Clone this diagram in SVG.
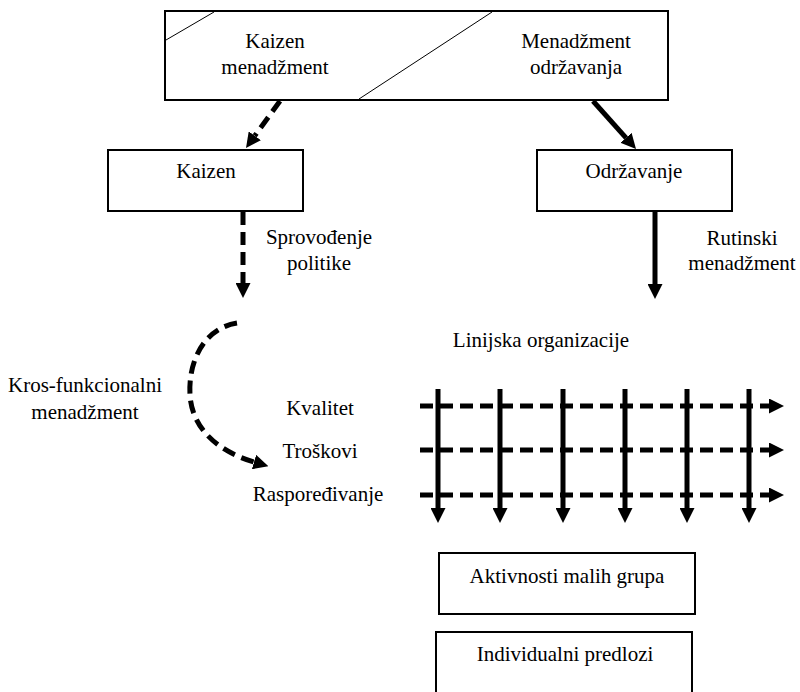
<svg xmlns="http://www.w3.org/2000/svg" width="800" height="692" viewBox="0 0 800 692">
<style>
.box{fill:#fff;stroke:#000;stroke-width:2}
.thin{stroke:#000;stroke-width:1;fill:none}
.t{font-family:'Times New Roman','Liberation Serif','DejaVu Serif',serif;font-size:21px;fill:#000;text-anchor:middle}
.solid{stroke:#000;stroke-width:5;fill:none}
.dash{stroke:#000;stroke-width:5;fill:none;stroke-dasharray:13 7}
</style>
<defs>
<marker id="ah" markerUnits="userSpaceOnUse" markerWidth="15" markerHeight="15" refX="0" refY="7.5" orient="auto">
<path d="M0,0 L15,7.5 L0,15 z" fill="#000"/>
</marker>
</defs>
<rect width="800" height="692" fill="#fff"/>
<g id="top">
<rect class="box" x="165" y="11" width="503" height="89"/>
<line class="thin" x1="166" y1="40" x2="214" y2="12"/>
<line class="thin" x1="359" y1="99" x2="492" y2="12"/>
<text class="t" x="275" y="48">Kaizen</text>
<text class="t" x="275" y="74">menadžment</text>
<text class="t" x="576" y="48">Menadžment</text>
<text class="t" x="576" y="74">održavanja</text>
</g>

<g id="kaizen">
<rect class="box" x="108" y="150" width="195" height="61"/>
<text class="t" x="206" y="178">Kaizen</text>
</g>

<g id="odrzavanje">
<rect class="box" x="537" y="150" width="195" height="61"/>
<text class="t" x="634" y="178">Održavanje</text>
</g>

<g id="labels">
<text class="t" x="319" y="244">Sprovođenje</text>
<text class="t" x="319" y="270">politike</text>
<text class="t" x="742" y="245">Rutinski</text>
<text class="t" x="742" y="270">menadžment</text>
<text class="t" x="541" y="347">Linijska organizacije</text>
<text class="t" x="85" y="392">Kros-funkcionalni</text>
<text class="t" x="85" y="419">menadžment</text>
<text class="t" x="320" y="415">Kvalitet</text>
<text class="t" x="320" y="458">Troškovi</text>
<text class="t" x="318" y="501">Raspoređivanje</text>
</g>

<g id="aktivnosti">
<rect class="box" x="439" y="553" width="256" height="61"/>
<text class="t" x="567" y="583">Aktivnosti malih grupa</text>
</g>

<g id="individualni">
<rect class="box" x="436" y="632" width="256" height="70"/>
<text class="t" x="565" y="661">Individualni predlozi</text>
</g>

<g id="connectors">
<line class="dash" x1="280" y1="101" x2="254.8" y2="135.8" marker-end="url(#ah)"/>
<line class="solid" x1="593" y1="101" x2="626" y2="137.8" marker-end="url(#ah)"/>
<line class="dash" x1="243" y1="212" x2="243" y2="283" marker-end="url(#ah)"/>
<line class="solid" x1="655" y1="212" x2="655" y2="284" marker-end="url(#ah)"/>
<path class="dash" d="M237,323 C205,328 188,360 190,395 C192,430 220,452 254,462" marker-end="url(#ah)"/>
<line class="solid" x1="438" y1="389" x2="438" y2="508" marker-end="url(#ah)"/>
<line class="solid" x1="500" y1="389" x2="500" y2="508" marker-end="url(#ah)"/>
<line class="solid" x1="563" y1="389" x2="563" y2="508" marker-end="url(#ah)"/>
<line class="solid" x1="625" y1="389" x2="625" y2="508" marker-end="url(#ah)"/>
<line class="solid" x1="687" y1="389" x2="687" y2="508" marker-end="url(#ah)"/>
<line class="solid" x1="749" y1="389" x2="749" y2="508" marker-end="url(#ah)"/>
<line class="dash" x1="420" y1="406" x2="769" y2="406" marker-end="url(#ah)"/>
<line class="dash" x1="420" y1="450" x2="769" y2="450" marker-end="url(#ah)"/>
<line class="dash" x1="420" y1="495" x2="769" y2="495" marker-end="url(#ah)"/>
</g>
</svg>
